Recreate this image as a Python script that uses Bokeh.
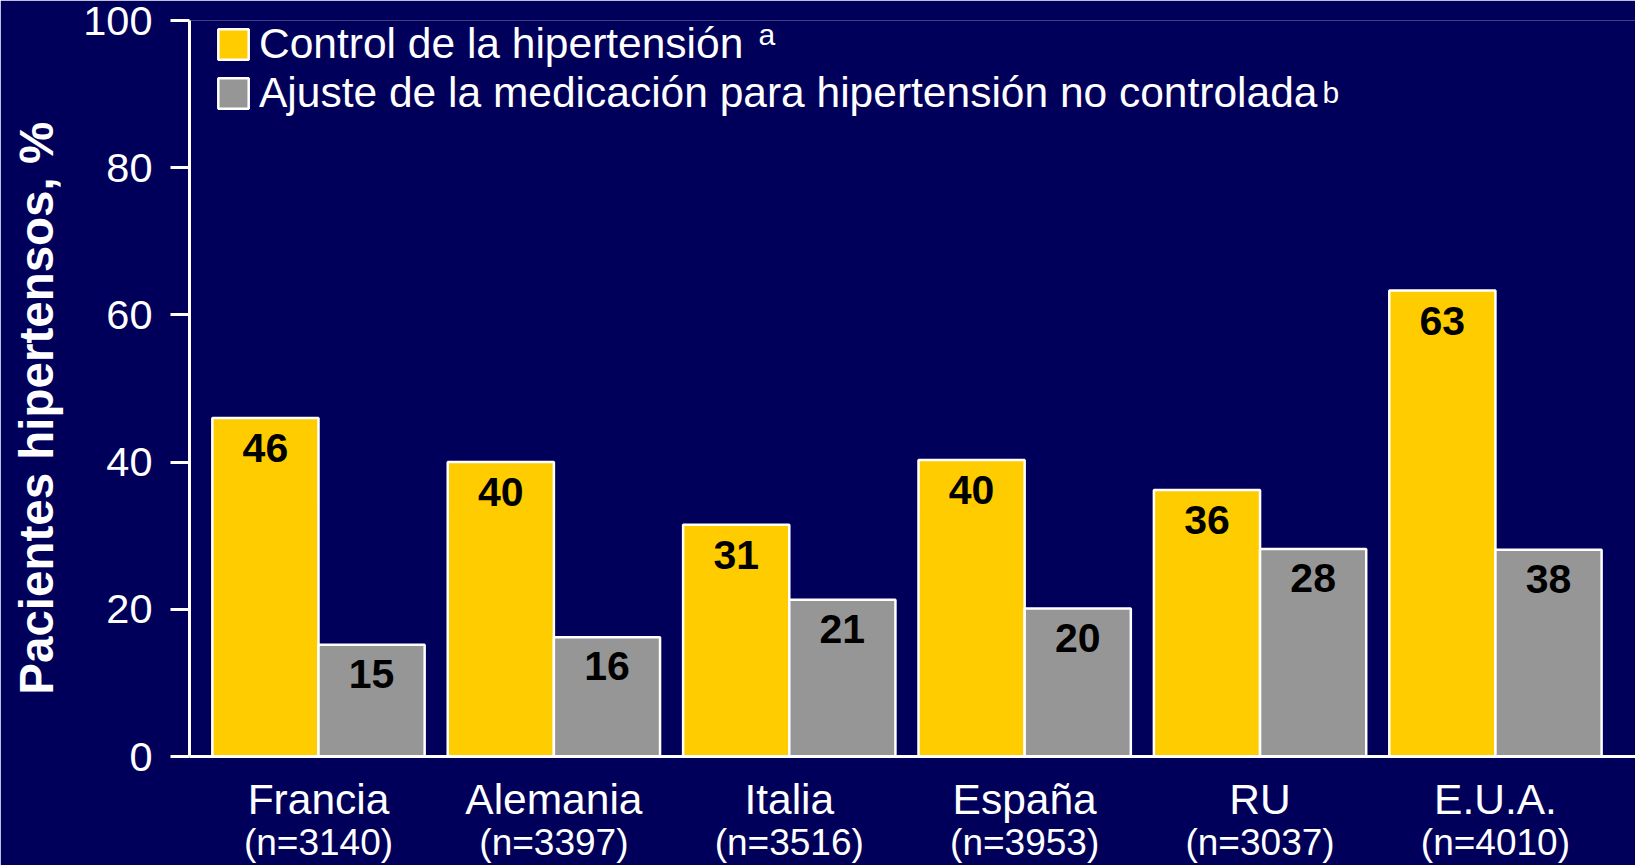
from bokeh.plotting import figure
from bokeh.models import (ColumnDataSource, Range1d, FixedTicker, LinearAxis,
                          Legend, LegendItem, Label)
from bokeh.transform import dodge
from bokeh.embed import file_html
from bokeh.resources import INLINE
from bokeh.core.properties import value

# ---- data ----
countries = ["Francia", "Alemania", "Italia", "España", "RU", "E.U.A."]
sample_sizes = ["(n=3140)", "(n=3397)", "(n=3516)", "(n=3953)", "(n=3037)", "(n=4010)"]
control = [46, 40, 31.5, 40.3, 36.2, 63.3]
control_labels = ["46", "40", "31", "40", "36", "63"]
adjust = [15.2, 16.2, 21.3, 20.1, 28.2, 28.1]
adjust_labels = ["15", "16", "21", "20", "28", "38"]
y_ticks = [0, 20, 40, 60, 80, 100]
series_names = ["Control de la hipertensión",
                "Ajuste de la medicación para hipertensión no controlada"]
series_marks = ["a", "b"]
y_title = "Pacientes hipertensos, %"

BG = "#00005A"
YELLOW = "#FFCC00"
GRAY = "#969696"
FONT = "Liberation Sans"

pos = [i + 0.5 for i in range(len(countries))]
BW = 0.451

src = ColumnDataSource(dict(x=pos, control=control, adjust=adjust,
                            cl=control_labels, al=adjust_labels))

p = figure(width=1635, height=865,
           x_range=Range1d(-0.048, 6.095), y_range=Range1d(0, 100),
           output_backend="svg", toolbar_location=None,
           min_border_left=189, min_border_top=20, min_border_right=0,
           min_border_bottom=0,
           background_fill_color=BG, border_fill_color=BG,
           outline_line_color=None)
p.grid.visible = False

r1 = p.vbar(x=dodge("x", -BW / 2, range=p.x_range), top="control", width=BW,
            source=src, fill_color=YELLOW, line_color="white", line_width=2.5)
r2 = p.vbar(x=dodge("x", BW / 2, range=p.x_range), top="adjust", width=BW,
            source=src, fill_color=GRAY, line_color="white", line_width=2.5)

p.text(x=dodge("x", -BW / 2, range=p.x_range), y="control", text="cl", source=src,
       text_align="center", text_baseline="top", y_offset=16,
       text_font=value(FONT), text_font_style="bold", text_font_size="41px",
       text_color="black")
p.text(x=dodge("x", BW / 2, range=p.x_range), y="adjust", text="al", source=src,
       text_align="center", text_baseline="top", y_offset=15,
       text_font=value(FONT), text_font_style="bold", text_font_size="41px",
       text_color="black")

# y axis
ya = p.yaxis[0]
ya.ticker = FixedTicker(ticks=y_ticks)
ya.axis_line_color = "white"
ya.axis_line_width = 3
ya.major_tick_line_color = "white"
ya.major_tick_line_width = 3
ya.major_tick_out = 19
ya.major_tick_in = 0
ya.minor_tick_line_color = None
ya.major_label_text_color = "white"
ya.major_label_text_font = FONT
ya.major_label_text_font_size = "41.5px"
ya.major_label_standoff = 18
ya.axis_label = y_title + "\u00a0\u00a0\u00a0"
ya.axis_label_text_font = FONT
ya.axis_label_text_font_style = "bold"
ya.axis_label_text_font_size = "47.5px"
ya.axis_label_text_color = "white"
ya.axis_label_standoff = 17

# x axis: country names
xa = p.xaxis[0]
xa.ticker = FixedTicker(ticks=pos)
xa.major_label_overrides = {x: c for x, c in zip(pos, countries)}
xa.axis_line_color = "white"
xa.axis_line_width = 3
xa.major_tick_line_color = None
xa.major_tick_out = 0
xa.major_tick_in = 0
xa.minor_tick_line_color = None
xa.major_label_text_color = "white"
xa.major_label_text_font = FONT
xa.major_label_text_font_size = "42.5px"
xa.major_label_standoff = 19

# second row: sample sizes
xa2 = LinearAxis(ticker=FixedTicker(ticks=pos),
                 major_label_overrides={x: s for x, s in zip(pos, sample_sizes)},
                 axis_line_color=None, major_tick_line_color=None,
                 minor_tick_line_color=None, major_tick_out=0, major_tick_in=0,
                 major_label_text_color="white", major_label_text_font=FONT,
                 major_label_text_font_size="37px", major_label_standoff=-4)
p.add_layout(xa2, "below")

legend = Legend(items=[LegendItem(label=series_names[0], renderers=[r1]),
                       LegendItem(label=series_names[1], renderers=[r2])],
                location=(25, 735 - 18 + 20 - 98), glyph_width=38, glyph_height=38,
                label_height=49,
                label_text_font=FONT, label_text_font_size="42.5px",
                label_text_color="white", background_fill_alpha=0,
                border_line_color=None, padding=0, margin=0, spacing=0,
                label_standoff=7)
p.add_layout(legend)

for mark, (mx, my) in zip(series_marks, [(2.369, 98.1), (4.765, 90.2)]):
    p.add_layout(Label(x=mx, y=my, x_units="data", y_units="data", text=mark,
                       text_font=FONT, text_font_size="30px", text_color="white",
                       text_baseline="alphabetic"))

open("out.html", "w").write(file_html(p, INLINE))
